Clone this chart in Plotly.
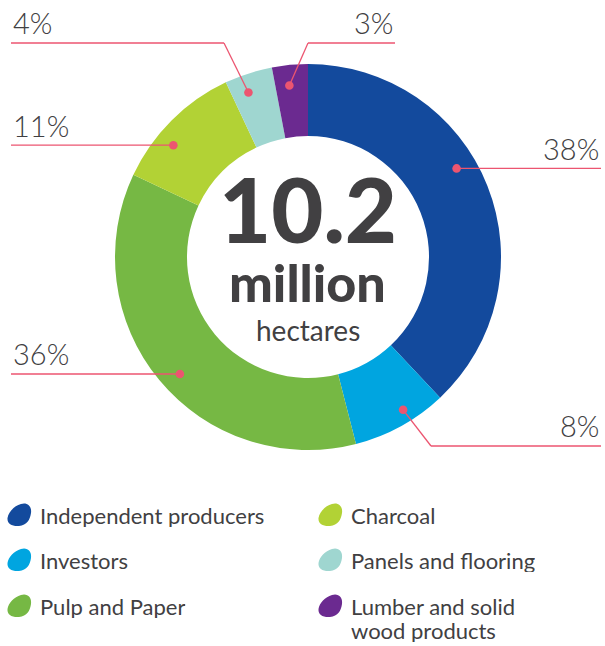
import math
import plotly.graph_objects as go

# ---- data -------------------------------------------------------------
categories = [
    "Independent producers",
    "Investors",
    "Pulp and Paper",
    "Charcoal",
    "Panels and flooring",
    "Lumber and solid wood products",
]
shares = [38, 8, 36, 11, 4, 3]
legend_lines = [
    ["Independent producers"],
    ["Investors"],
    ["Pulp and Paper"],
    ["Charcoal"],
    ["Panels and flooring"],
    ["Lumber and solid", "wood products"],
]
center_value = "10.2"
center_unit = "million"
center_caption = "hectares"

# ---- styling ----------------------------------------------------------
colors = ["#134a9d", "#00a5e0", "#76b844", "#b2d235", "#9fd6d0", "#6b2a90"]
text_color = "#414042"
callout_color = "#ec5570"

W, H = 605, 646
cx, cy, R = 308, 257, 193
hole = 0.627

# callout placement: angular nudge from slice middle, radius of the dot,
# side of the label, optional elbow point, end of the horizontal leader
dot_nudge_deg = [-9.2, -3.1, -2.8, -5.3, -1.9, -0.8]
dot_radius = [173, 180, 173.5, 175, 175, 172.5]
label_side = ["right", "right", "left", "left", "left", "right"]
elbows = [None, (431, 446), None, None, (224, 43), (308, 43)]
leader_end_x = [601, 601, 11, 11, 11, 395]


def px(x):
    return x / W


def py(y):
    return 1 - y / H


fig = go.Figure(
    go.Pie(
        values=shares,
        labels=categories,
        sort=False,
        direction="clockwise",
        rotation=0,
        hole=hole,
        marker=dict(colors=colors, line=dict(width=0)),
        textinfo="none",
        hoverinfo="label+percent",
        showlegend=False,
        domain=dict(x=[px(cx - R), px(cx + R)], y=[py(cy + R), py(cy - R)]),
    )
)

shapes = []
annotations = []

# ---- callouts ---------------------------------------------------------
total = sum(shares)
start = 0.0
for i, v in enumerate(shares):
    span = 360.0 * v / total
    mid = start + span / 2 + dot_nudge_deg[i]
    start += span
    a = math.radians(mid)
    dx = cx + dot_radius[i] * math.sin(a)
    dy = cy - dot_radius[i] * math.cos(a)

    pts = [(dx, dy)]
    if elbows[i] is not None:
        pts.append(elbows[i])
    line_y = pts[-1][1]
    pts.append((leader_end_x[i], line_y))
    for (x0, y0), (x1, y1) in zip(pts[:-1], pts[1:]):
        shapes.append(dict(
            type="line", xref="paper", yref="paper",
            x0=px(x0), y0=py(y0), x1=px(x1), y1=py(y1),
            line=dict(color=callout_color, width=1.3), layer="above",
        ))
    r = 4.3
    shapes.append(dict(
        type="circle", xref="paper", yref="paper",
        x0=px(dx - r), x1=px(dx + r), y0=py(dy + r), y1=py(dy - r),
        fillcolor=callout_color, line=dict(width=0), layer="above",
    ))
    annotations.append(dict(
        xref="paper", yref="paper",
        x=px(leader_end_x[i]), y=py(line_y - 20),
        xanchor=label_side[i], yanchor="middle",
        text=f"{v}%", showarrow=False,
        font=dict(family="Lato", size=29, color=text_color, weight=300),
    ))

# ---- centre text ------------------------------------------------------
center_rows = [
    (center_value, 208, 90, 900, 74),
    (center_unit, 282, 52, 900, 46),
    (center_caption, 330, 28, 400, 30),
]
for txt, yc, size, weight, box_h in center_rows:
    annotations.append(dict(
        xref="paper", yref="paper", x=px(cx), y=py(yc), xanchor="center",
        yanchor="middle", text=txt, showarrow=False, height=box_h,
        font=dict(family="Lato", size=size, color=text_color, weight=weight),
    ))

# ---- legend (pebble icons + labels) ------------------------------------
pebble = [
    ("M", [(14, 1)]),
    ("C", [(20, -1), (25, 3), (24, 10)]),
    ("C", [(23, 17), (20, 22), (12, 23)]),
    ("C", [(5, 23.5), (0, 21), (0.5, 15)]),
    ("C", [(1.5, 9), (7, 3), (14, 1)]),
]


def pebble_path(x0, y0):
    parts = []
    for cmd, pts in pebble:
        coords = " ".join(f"{px(x0 + x):.5f},{py(y0 + y):.5f}" for x, y in pts)
        parts.append(f"{cmd} {coords}")
    return " ".join(parts) + " Z"


legend_cols_x = [7, 318]
legend_rows_y = [503, 548, 594]
legend_line_gap = 24
for i, lines in enumerate(legend_lines):
    col, row = divmod(i, 3)
    ix = legend_cols_x[col]
    iy = legend_rows_y[row]
    shapes.append(dict(
        type="path", xref="paper", yref="paper", path=pebble_path(ix, iy),
        fillcolor=colors[i], line=dict(width=0), layer="above",
    ))
    for k, line in enumerate(lines):
        annotations.append(dict(
            xref="paper", yref="paper",
            x=px(ix + 31), y=py(iy + 12 + k * legend_line_gap),
            xanchor="left", yanchor="middle", align="left",
            text=line, showarrow=False, height=23,
            font=dict(family="Lato", size=22, color=text_color),
        ))

fig.update_layout(
    width=W, height=H, autosize=False,
    margin=dict(l=0, r=0, t=0, b=0),
    paper_bgcolor="white", plot_bgcolor="white",
    shapes=shapes, annotations=annotations,
    showlegend=False,
)

fig.write_html("out.html")
